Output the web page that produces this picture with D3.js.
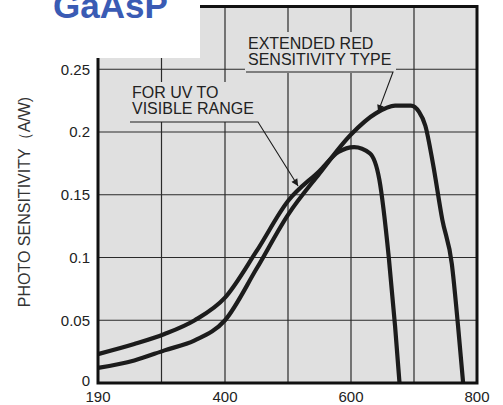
<!DOCTYPE html>
<html>
<head>
<meta charset="utf-8">
<script src="https://cdn.jsdelivr.net/npm/d3@7"></script>
<style>
  body { margin: 0; background: #fff; }
  svg { display: block; font-family: "Liberation Sans", Arial, sans-serif; }
</style>
</head>
<body>
<div id="chart"></div>
<script>
// wavelength (nm) / photo sensitivity (A/W)
const uvWave   = [190, 250, 300, 350, 400, 450, 500, 550, 580, 605, 630, 645, 660, 670, 677];
const uvSens   = [0.023, 0.031, 0.039, 0.050, 0.068, 0.105, 0.145, 0.169, 0.184, 0.188, 0.183, 0.162, 0.100, 0.045, 0.0];
const redWave  = [190, 250, 300, 350, 400, 450, 500, 550, 600, 640, 670, 695, 708, 718, 730, 745, 760, 770, 778];
const redSens  = [0.012, 0.018, 0.026, 0.034, 0.050, 0.091, 0.134, 0.167, 0.198, 0.215, 0.221, 0.221, 0.216, 0.205, 0.175, 0.130, 0.095, 0.045, 0.0];

const xTicks = [190, 400, 600, 800];
const xGrid = [295, 400, 500, 600, 700];
const yTicks = [0, 0.05, 0.1, 0.15, 0.2, 0.25];
const yGrid = [0.05, 0.1, 0.15, 0.2, 0.25];

const width = 503, height = 405;
const bg = "#e0e0e0";
const ink = "#1c1c1c";

const svg = d3.select("#chart").append("svg")
    .attr("width", width)
    .attr("height", height);

// axis is not uniform: 190..400 takes the same room as 400..600
const x = d3.scaleLinear().domain([190, 400, 800]).range([98, 225, 477]);
const y = d3.scaleLinear().domain([0, 0.30]).range([383, 6.5]);

const defs = svg.append("defs");
defs.append("marker")
    .attr("id", "arrow")
    .attr("viewBox", "0 -5 10 10")
    .attr("refX", 10)
    .attr("refY", 0)
    .attr("markerWidth", 9)
    .attr("markerHeight", 7)
    .attr("markerUnits", "userSpaceOnUse")
    .attr("orient", "auto")
    .append("path")
    .attr("d", "M0,-5L10,0L0,5Z")
    .attr("fill", ink);

// plot background
svg.append("rect")
    .attr("x", x(190)).attr("y", y(0.30))
    .attr("width", x(800) - x(190))
    .attr("height", y(0) - y(0.30))
    .attr("fill", bg);

// grid
svg.append("g").selectAll("line")
    .data(xGrid)
    .join("line")
    .attr("x1", d => x(d)).attr("x2", d => x(d))
    .attr("y1", y(0)).attr("y2", y(0.30))
    .attr("stroke", "#2a2a2a")
    .attr("stroke-width", 1.2);

svg.append("g").selectAll("line")
    .data(yGrid)
    .join("line")
    .attr("x1", x(190)).attr("x2", x(800))
    .attr("y1", d => y(d)).attr("y2", d => y(d))
    .attr("stroke", "#2a2a2a")
    .attr("stroke-width", 1.2);

// label boxes hide the grid behind the text
svg.append("rect").attr("x", 245).attr("y", 32).attr("width", 151).attr("height", 41).attr("fill", bg);
svg.append("rect").attr("x", 128).attr("y", 82).attr("width", 131).attr("height", 40).attr("fill", bg);

// curves
const line = d3.line()
    .x(d => x(d[0]))
    .y(d => y(d[1]))
    .curve(d3.curveMonotoneX);

const uv = d3.zip(uvWave, uvSens);
const red = d3.zip(redWave, redSens);

[red, uv].forEach(pts => {
    svg.append("path")
        .attr("d", line(pts))
        .attr("fill", "none")
        .attr("stroke", ink)
        .attr("stroke-width", 4.2)
        .attr("stroke-linejoin", "round")
        .attr("stroke-linecap", "butt");
});

// annotations
const notes = [
    { lines: ["EXTENDED RED", "SENSITIVITY TYPE"], tx: 248, ty: 49, lead: [[246, 72], [393, 72]], tip: [643, 0.216] },
    { lines: ["FOR UV TO", "VISIBLE RANGE"], tx: 132, ty: 98, lead: [[130, 122], [258, 122]], tip: [516, 0.157] }
];

notes.forEach(n => {
    const t = svg.append("text")
        .attr("x", n.tx).attr("y", n.ty)
        .attr("font-size", 16)
        .attr("fill", "#222");
    n.lines.forEach((s, i) => {
        t.append("tspan")
            .attr("x", n.tx)
            .attr("dy", i === 0 ? 0 : 15.5)
            .text(s);
    });
    const pts = n.lead.concat([[x(n.tip[0]), y(n.tip[1])]]);
    svg.append("path")
        .attr("d", d3.line()(pts))
        .attr("fill", "none")
        .attr("stroke", ink)
        .attr("stroke-width", 1.1)
        .attr("marker-end", "url(#arrow)");
});

// frame
svg.append("rect")
    .attr("x", x(190)).attr("y", y(0.30))
    .attr("width", x(800) - x(190))
    .attr("height", y(0) - y(0.30))
    .attr("fill", "none")
    .attr("stroke", "#111")
    .attr("stroke-width", 3);

// white corner with title
svg.append("rect")
    .attr("x", 0).attr("y", 0)
    .attr("width", 200).attr("height", 58)
    .attr("fill", "#fff");

svg.append("text")
    .attr("x", 53).attr("y", 18)
    .attr("font-size", 35)
    .attr("font-weight", "bold")
    .attr("fill", "#3a5bb4")
    .text("GaAsP");

// tick labels
svg.append("g").selectAll("text")
    .data(yTicks)
    .join("text")
    .attr("x", 90)
    .attr("y", d => y(d) - (d === 0 ? 2 : 0))
    .attr("dy", "0.36em")
    .attr("text-anchor", "end")
    .attr("font-size", 15)
    .attr("fill", "#222")
    .text(d => d === 0 ? "0" : d3.format("")(d));

svg.append("g").selectAll("text")
    .data(xTicks)
    .join("text")
    .attr("x", d => x(d))
    .attr("y", 402)
    .attr("text-anchor", "middle")
    .attr("font-size", 15)
    .attr("fill", "#222")
    .text(d => d);

svg.append("text")
    .attr("transform", "translate(30,202) rotate(-90)")
    .attr("text-anchor", "middle")
    .attr("font-size", 16)
    .attr("fill", "#333")
    .text("PHOTO SENSITIVITY（A/W)");
</script>
</body>
</html>
